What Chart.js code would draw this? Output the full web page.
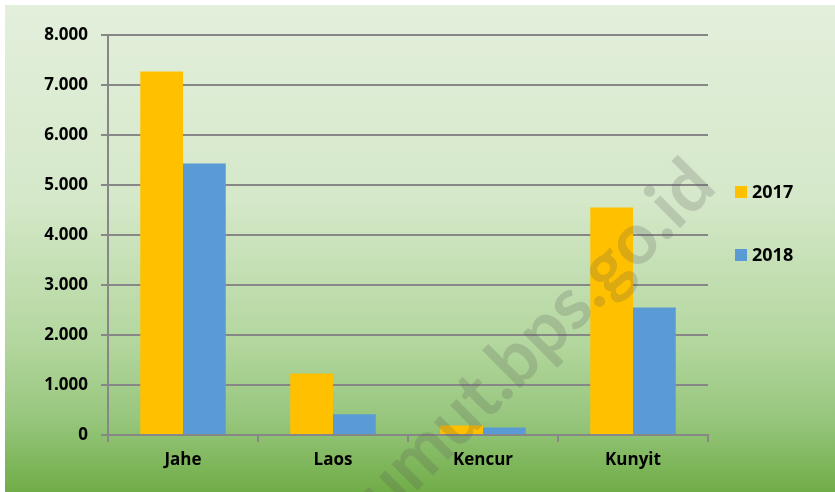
<!DOCTYPE html>
<html>
<head>
<meta charset="utf-8">
<script src="https://cdn.jsdelivr.net/npm/chart.js@4/dist/chart.umd.min.js"></script>
<style>
  html, body { margin: 0; padding: 0; background: #ffffff; }
  #wrap { width: 835px; height: 492px; position: relative; }
</style>
</head>
<body>
<div id="wrap"><canvas id="c" width="835" height="492"></canvas></div>
<script>
// ---- data ----
const categories = ['Jahe', 'Laos', 'Kencur', 'Kunyit'];
const seriesLabels = ['2017', '2018'];
const values2017 = [7270, 1230, 190, 4550];
const values2018 = [5430, 415, 150, 2550];
const yTickMax = 8000;
const yTickStep = 1000;
const watermarkText = 'sumut.bps.go.id';

const COLORS = ['#FFC000', '#5B9BD5'];
const GRID = '#878787';
const FONT = '"Open Sans", Lato, sans-serif';

function fmt(v) {
  return String(v).replace(/\B(?=(\d{3})+(?!\d))/g, '.');
}

const bgPlugin = {
  id: 'bg',
  beforeDraw(chart) {
    const ctx = chart.ctx;
    ctx.save();
    ctx.fillStyle = '#ffffff';
    ctx.fillRect(0, 0, chart.width, chart.height);
    const g = ctx.createLinearGradient(0, 5, 0, chart.height);
    g.addColorStop(0, '#e3efdc');
    g.addColorStop(0.4, '#d5e8c9');
    g.addColorStop(0.7, '#b2d69d');
    g.addColorStop(0.85, '#97c67d');
    g.addColorStop(1, '#70ad47');
    ctx.fillStyle = g;
    ctx.fillRect(5, 5, chart.width - 5, chart.height - 5);
    ctx.restore();
  }
};

const watermarkPlugin = {
  id: 'wm',
  afterDatasetsDraw(chart) {
    const ctx = chart.ctx;
    ctx.save();
    ctx.font = 'bold 72px Lato, sans-serif';
    const pre = ctx.measureText('sumut.bps').width;
    const dot = ctx.measureText('.').width;
    ctx.translate(603, 305);
    ctx.rotate(-45 * Math.PI / 180);
    ctx.fillStyle = 'rgba(85,85,85,0.21)';
    ctx.textAlign = 'left';
    ctx.textBaseline = 'alphabetic';
    ctx.fillText(watermarkText, -pre - dot / 2, 0);
    ctx.restore();
  }
};

const legendPlugin = {
  id: 'customLegend',
  afterDraw(chart) {
    const ctx = chart.ctx;
    ctx.save();
    const x = 735, ys = [192, 255];
    chart.data.datasets.forEach((ds, i) => {
      ctx.fillStyle = ds.backgroundColor;
      ctx.fillRect(x, ys[i] - 6, 12, 12);
      ctx.fillStyle = '#000000';
      ctx.font = 'bold 18px ' + FONT;
      ctx.textAlign = 'left';
      ctx.textBaseline = 'middle';
      ctx.fillText(ds.label, x + 17, ys[i] + 1);
    });
    ctx.restore();
  }
};

new Chart(document.getElementById('c'), {
  type: 'bar',
  data: {
    labels: categories,
    datasets: [
      { label: seriesLabels[0], data: values2017, backgroundColor: COLORS[0] },
      { label: seriesLabels[1], data: values2018, backgroundColor: COLORS[1] }
    ]
  },
  options: {
    responsive: false,
    animation: false,
    devicePixelRatio: 1,
    layout: { padding: { top: 35, right: 127, bottom: 0, left: 0 } },
    datasets: { bar: { categoryPercentage: 0.57, barPercentage: 1.0 } },
    plugins: { legend: { display: false }, tooltip: { enabled: false } },
    scales: {
      x: {
        afterFit(scale) { scale.height = 57; },
        grid: { display: true, drawOnChartArea: false, drawTicks: true, tickLength: 7, color: GRID, lineWidth: 2, offset: true },
        border: { display: true, color: GRID, width: 2 },
        ticks: { color: '#000000', font: { family: FONT, size: 17, weight: 'bold' }, padding: 8 }
      },
      y: {
        min: 0,
        max: yTickMax,
        afterFit(scale) { scale.width = 108; },
        grid: { color: GRID, lineWidth: 2, tickLength: 7, drawTicks: true },
        border: { display: true, color: GRID, width: 2 },
        ticks: {
          stepSize: yTickStep,
          color: '#000000',
          padding: 13,
          font: { family: FONT, size: 17, weight: 'bold' },
          callback: (v) => fmt(v)
        }
      }
    }
  },
  plugins: [bgPlugin, watermarkPlugin, legendPlugin]
});
</script>
</body>
</html>
